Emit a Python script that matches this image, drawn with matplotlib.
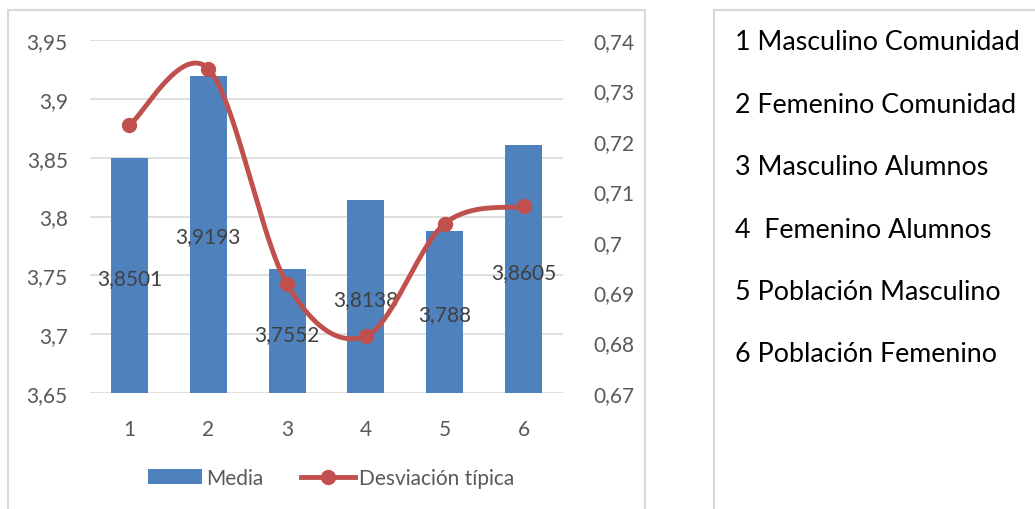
import numpy as np
import matplotlib
matplotlib.use("Agg")
import matplotlib.pyplot as plt
from matplotlib.patches import Rectangle
from matplotlib.lines import Line2D
from matplotlib.patches import Patch

plt.rcParams['font.family'] = ['Lato', 'DejaVu Sans']

# --- data ---
categories = [1, 2, 3, 4, 5, 6]
media = [3.8501, 3.9193, 3.7552, 3.8138, 3.788, 3.8605]
media_labels = ["3,8501", "3,9193", "3,7552", "3,8138", "3,788", "3,8605"]
desviacion = [0.7231, 0.7343, 0.6916, 0.6813, 0.7036, 0.7070]
left_ticks = [3.65, 3.70, 3.75, 3.80, 3.85, 3.90, 3.95]
left_tick_labels = ["3,65", "3,7", "3,75", "3,8", "3,85", "3,9", "3,95"]
right_ticks = [0.67, 0.68, 0.69, 0.70, 0.71, 0.72, 0.73, 0.74]
right_tick_labels = ["0,67", "0,68", "0,69", "0,7", "0,71", "0,72", "0,73", "0,74"]
descripciones = ["1 Masculino Comunidad", "2 Femenino Comunidad",
                 "3 Masculino Alumnos", "4  Femenino Alumnos",
                 "5 Población Masculino", "6 Población Femenino"]

BAR = "#4f81bd"
LINE = "#c0504d"
GRID = "#d9d9d9"
TXT = "#595959"
FS = 15

W, H = 1035, 510
fig = plt.figure(figsize=(W / 100, H / 100), dpi=100)


def px(x0, y0, x1, y1):
    return [x0 / W, 1 - y1 / H, (x1 - x0) / W, (y1 - y0) / H]


# outer frames
fig.patches.append(Rectangle((8 / W, -0.05), (645 - 8) / W, 1 - 11 / H + 0.05,
                             transform=fig.transFigure, fill=False,
                             edgecolor=GRID, lw=1.5))
fig.patches.append(Rectangle((714 / W, -0.05), (1040 - 714) / W, 1 - 11 / H + 0.05,
                             transform=fig.transFigure, fill=False,
                             edgecolor=GRID, lw=1.5))

ax = fig.add_axes(px(90, 41, 563, 394))
x = np.array(categories, dtype=float)
ax.bar(x, np.array(media) - 3.65, bottom=3.65, width=0.47, color=BAR, zorder=2)
ax.set_xlim(0.5, 6.5)
ax.set_ylim(3.65, 3.95)
ax.set_yticks(left_ticks)
ax.set_yticklabels(left_tick_labels)
ax.set_xticks(categories)
ax.set_xticklabels([str(c) for c in categories])
ax.grid(axis='y', color=GRID, lw=1.2, zorder=0)
for s in ax.spines.values():
    s.set_visible(False)
ax.tick_params(length=0, labelsize=FS, colors=TXT, pad=16)
ax.tick_params(axis='x', pad=19)

# data labels for the bars (vertical spot given in left-axis units)
label_y = [3.7477, 3.7834, 3.7001, 3.7299, 3.7171, 3.7531]
for xi, ly, t in zip(x, label_y, media_labels):
    ax.text(xi, ly, t, ha='center', va='center', fontsize=FS, color="#404040", zorder=5)

# secondary axis with smoothed line
ax2 = ax.twinx()
ax2.set_ylim(0.67, 0.74)
ax2.set_yticks(right_ticks)
ax2.set_yticklabels(right_tick_labels)
for s in ax2.spines.values():
    s.set_visible(False)
ax2.tick_params(length=0, labelsize=FS, colors=TXT, pad=22)
for lab in ax2.get_yticklabels():
    lab.set_horizontalalignment('left')

y = np.array(desviacion)
pts = np.column_stack([x, y])
ext = np.vstack([pts[0], pts, pts[-1]])
curve = []
t = np.linspace(0, 1, 60)
for i in range(len(pts) - 1):
    p0, p1, p2, p3 = ext[i], ext[i + 1], ext[i + 2], ext[i + 3]
    b1 = p1 + (p2 - p0) / 6
    b2 = p2 - (p3 - p1) / 6
    seg = ((1 - t) ** 3)[:, None] * p1 + (3 * (1 - t) ** 2 * t)[:, None] * b1 \
        + (3 * (1 - t) * t ** 2)[:, None] * b2 + (t ** 3)[:, None] * p2
    curve.append(seg)
curve = np.vstack(curve)
ax2.plot(curve[:, 0], curve[:, 1], color=LINE, lw=3.5, solid_capstyle='round', zorder=3)
ax2.plot(x, y, 'o', color=LINE, ms=10, zorder=4)

# legend
handles = [Patch(facecolor=BAR, edgecolor='none'),
           Line2D([0], [0], color=LINE, lw=3.5, marker='o', ms=10)]
fig.legend(handles, ["Media", "Desviación típica"], loc='center',
           bbox_to_anchor=(331 / W, 1 - 479 / H), ncol=2, frameon=False,
           fontsize=FS, labelcolor=TXT, handlelength=2.6, handleheight=0.7,
           handletextpad=0.2, columnspacing=1.8)

# descriptions of the categories
for i, d in enumerate(descripciones):
    fig.text(735 / W, 1 - (43 + 62.4 * i) / H, d, ha='left', va='center',
             fontsize=19.3, color='black')

fig.savefig("out.png", dpi=100)
